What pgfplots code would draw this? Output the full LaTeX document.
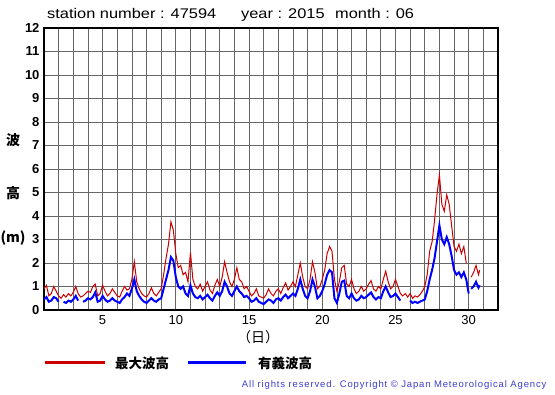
\documentclass[border=0pt]{standalone}
\usepackage{pgfplots}
\pgfplotsset{compat=1.18}
\usepackage{pgfplotstable}
\usepackage{fontspec}
\setmainfont{Liberation Sans}
\newfontfamily\jp{Noto Sans CJK JP}
\newfontfamily\titlefont[FakeStretch=1.17]{Liberation Sans}
\newfontfamily\copyfont[LetterSpace=9]{Liberation Sans}
\definecolor{maxred}{RGB}{204,0,0}
\definecolor{sigblue}{RGB}{0,0,255}
\definecolor{copyblue}{RGB}{60,60,210}
\pgfplotstableread{
t m s
1.000 0.90 0.45
1.167 1.05 0.55
1.333 0.60 0.35
1.500 0.70 0.40
1.667 1.00 0.55
1.833 0.80 0.50
2.000 0.60 0.35
2.167 0.50 nan
2.333 0.65 0.35
2.500 0.55 0.30
2.667 0.70 0.40
2.833 0.60 0.35
3.000 0.75 0.45
3.167 1.00 0.60
3.333 0.70 0.40
3.500 0.55 nan
3.667 0.60 0.35
3.833 0.70 0.40
4.000 0.80 0.50
4.167 0.75 0.45
4.333 1.00 0.55
4.500 1.10 0.75
4.667 0.60 0.35
4.833 0.70 0.40
5.000 1.05 0.60
5.167 0.80 0.45
5.333 0.60 0.35
5.500 0.70 0.40
5.667 0.90 0.50
5.833 0.75 0.40
6.000 0.60 0.35
6.167 0.55 0.30
6.333 0.80 0.45
6.500 1.00 0.55
6.667 0.85 0.70
6.833 0.90 0.60
7.000 1.30 0.90
7.167 2.05 1.30
7.333 1.20 0.80
7.500 0.90 0.60
7.667 0.70 0.45
7.833 0.60 0.35
8.000 0.55 0.30
8.167 0.70 0.40
8.333 0.95 0.50
8.500 0.70 0.40
8.667 0.60 0.35
8.833 0.75 0.45
9.000 0.90 0.50
9.167 1.50 0.90
9.333 2.20 1.30
9.500 2.80 1.70
9.667 3.75 2.25
9.833 3.40 2.10
10.000 2.40 1.40
10.167 1.80 1.00
10.333 1.90 0.90
10.500 1.50 1.00
10.667 1.60 0.70
10.833 1.20 0.60
11.000 2.45 1.05
11.167 1.30 0.70
11.333 1.00 0.55
11.500 0.90 0.50
11.667 1.10 0.60
11.833 0.80 0.45
12.000 1.00 0.55
12.167 1.20 0.65
12.333 0.85 0.50
12.500 0.70 0.40
12.667 1.05 0.60
12.833 1.30 0.75
13.000 1.00 0.60
13.167 1.40 0.80
13.333 2.05 1.20
13.500 1.60 1.00
13.667 1.20 0.70
13.833 1.00 0.60
14.000 1.30 0.80
14.167 1.80 1.00
14.333 1.30 0.80
14.500 1.20 0.70
14.667 0.90 0.55
14.833 1.00 0.60
15.000 0.80 0.50
15.167 0.60 0.35
15.333 0.70 0.40
15.500 0.90 0.50
15.667 0.60 0.35
15.833 0.55 0.30
16.000 0.50 0.25
16.167 0.65 0.35
16.333 0.90 0.45
16.500 0.70 0.40
16.667 0.60 0.30
16.833 0.80 0.45
17.000 0.90 0.50
17.167 0.70 0.40
17.333 0.95 0.55
17.500 1.15 0.65
17.667 0.85 0.50
17.833 1.00 0.60
18.000 1.20 0.70
18.167 1.00 0.60
18.333 1.50 0.90
18.500 2.00 1.30
18.667 1.40 0.90
18.833 1.00 0.60
19.000 0.90 0.50
19.167 1.30 0.80
19.333 2.05 1.30
19.500 1.60 1.00
19.667 0.90 0.50
19.833 1.00 0.60
20.000 1.30 0.80
20.167 1.70 1.10
20.333 2.40 1.50
20.500 2.70 1.70
20.667 2.50 1.60
20.833 1.30 0.50
21.000 0.80 0.30
21.167 1.20 0.70
21.333 1.80 1.20
21.500 1.90 1.25
21.667 1.10 0.60
21.833 1.00 0.50
22.000 1.30 0.70
22.167 0.90 0.50
22.333 0.70 0.40
22.500 0.80 0.45
22.667 1.00 0.60
22.833 0.80 0.50
23.000 0.90 0.55
23.167 1.10 0.65
23.333 1.25 0.75
23.500 0.90 0.55
23.667 0.80 0.45
23.833 1.00 0.55
24.000 0.90 0.50
24.167 1.30 0.80
24.333 1.65 1.00
24.500 1.20 0.75
24.667 0.90 0.55
24.833 1.00 0.60
25.000 1.30 0.70
25.167 1.00 0.55
25.333 0.70 0.40
25.500 0.60 nan
25.667 0.70 0.45
25.833 0.55 nan
26.000 0.70 0.40
26.167 0.50 0.30
26.333 0.60 0.35
26.500 0.55 0.30
26.667 0.65 0.35
26.833 0.80 0.40
27.000 1.00 0.45
27.167 1.50 0.80
27.333 2.50 1.30
27.500 2.90 1.70
27.667 3.80 2.20
27.833 4.90 2.90
28.000 5.75 3.60
28.167 4.50 3.00
28.333 4.20 2.80
28.500 4.90 3.10
28.667 4.50 2.80
28.833 3.60 2.30
29.000 2.70 1.70
29.167 2.50 1.50
29.333 2.80 1.60
29.500 2.40 1.40
29.667 2.70 1.60
29.833 2.00 1.30
30.000 nan 0.70
30.083 nan nan
30.167 1.40 0.90
30.333 1.60 1.00
30.500 1.90 1.20
30.667 1.50 0.95
30.750 1.70 1.05
}\waves
\begin{document}
\begin{tikzpicture}[x=1pt,y=1pt]
\begin{axis}[at={(44pt,85pt)}, anchor=south west, scale only axis,
  width=454pt, height=282pt,
  xmin=1, xmax=32, ymin=0, ymax=12,
  xtick={5,10,...,30}, minor xtick={1,...,32}, ytick={0,...,12},
  grid=both, grid style={draw=black!60, line width=0.7pt},
  major tick length=0pt, minor tick length=0pt,
  axis line style={line width=1.4pt},
  /pgf/number format/assume math mode=true,
  yticklabel style={font=\bfseries\fontsize{13}{13}\selectfont, xshift=-1pt},
  xticklabel style={font=\fontsize{13}{13}\selectfont, yshift=-2pt},
  unbounded coords=jump,
]
\addplot[maxred, line width=1pt] table[x=t,y=m]{\waves};
\addplot[sigblue, line width=2pt] table[x=t,y=s]{\waves};
\end{axis}
\node[anchor=base west, inner sep=0pt, font=\titlefont\fontsize{14}{14}\selectfont] at (47,376) {station number : 47594};
\node[anchor=base west, inner sep=0pt, font=\titlefont\fontsize{14}{14}\selectfont] at (241,376) {year : 2015};
\node[anchor=base west, inner sep=0pt, font=\titlefont\fontsize{14}{14}\selectfont] at (335,376) {month : 06};
\node[font=\jp\bfseries\fontsize{14}{14}\selectfont] at (13,255) {波};
\node[font=\jp\bfseries\fontsize{14}{14}\selectfont] at (13,202) {高};
\node[font=\jp\bfseries\fontsize{14}{14}\selectfont] at (13,157) {(m)};
\node[font=\jp\fontsize{14}{14}\selectfont] at (258,58) {（日）};
\draw[maxred, line width=3pt] (45,32) -- (105,32);
\node[anchor=west, inner sep=0pt, font=\jp\bfseries\fontsize{13.5}{13.5}\selectfont] at (115,32) {最大波高};
\draw[sigblue, line width=3pt] (188,32) -- (246,32);
\node[anchor=west, inner sep=0pt, font=\jp\bfseries\fontsize{13.5}{13.5}\selectfont] at (258,32) {有義波高};
\node[anchor=base east, font=\copyfont\fontsize{9.5}{9.5}\selectfont, text=copyblue] at (550,7) {All rights reserved. Copyright © Japan Meteorological Agency};
\pgfresetboundingbox
\useasboundingbox (0,0) rectangle (555,395);
\end{tikzpicture}
\end{document}
